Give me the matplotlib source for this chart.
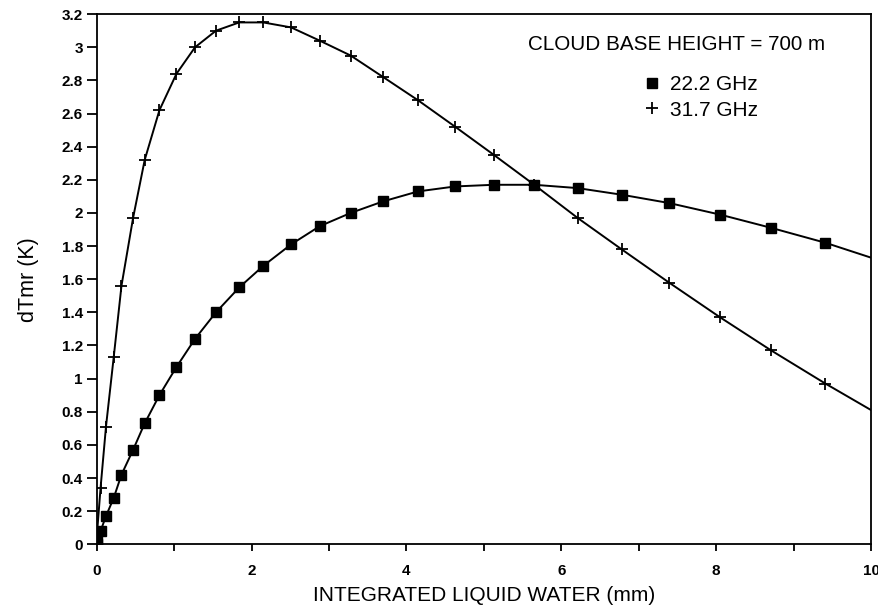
import matplotlib
matplotlib.use("Agg")
import matplotlib.pyplot as plt
from matplotlib.lines import Line2D

plt.rcParams['font.family'] = ['Liberation Sans', 'DejaVu Sans']

# integrated liquid water (mm), same sampling for both channels
lwp = [0.0, 0.01, 0.05, 0.12, 0.22, 0.32, 0.47, 0.62, 0.81, 1.03, 1.27, 1.54,
       1.84, 2.15, 2.51, 2.88, 3.28, 3.70, 4.15, 4.63, 5.13, 5.65, 6.21,
       6.78, 7.39, 8.05, 8.71, 9.41, 10.0]

# dTmr (K)
dt_222 = [0.0, 0.02, 0.08, 0.17, 0.28, 0.42, 0.57, 0.73, 0.90, 1.07, 1.24, 1.40,
          1.55, 1.68, 1.81, 1.92, 2.00, 2.07, 2.13, 2.16, 2.17, 2.17, 2.15,
          2.11, 2.06, 1.99, 1.91, 1.82, 1.73]
dt_317 = [0.0, 0.10, 0.34, 0.71, 1.13, 1.56, 1.97, 2.32, 2.62, 2.84, 3.00, 3.10,
          3.15, 3.15, 3.12, 3.04, 2.95, 2.82, 2.68, 2.52, 2.35, 2.17, 1.97,
          1.78, 1.58, 1.37, 1.17, 0.97, 0.81]

xticks = [0, 2, 4, 6, 8, 10]
xminor = [1, 3, 5, 7, 9]
yticks = [i * 0.2 for i in range(17)]

fig = plt.figure(figsize=(8.79, 6.15), dpi=100)
ax = fig.add_axes([0.110, 0.115, 0.881, 0.862])

# last point (x=10) is only where the curve leaves the frame, no marker
marks = list(range(len(lwp) - 1))
ax.plot(lwp, dt_222, color='black', lw=1.4, marker='s', ms=7.5,
        markevery=marks)
ax.plot(lwp, dt_317, color='black', lw=1.4, marker='+', ms=8.5, mew=1.3,
        markevery=marks)

ax.set_xlim(0, 10)
ax.set_ylim(0, 3.2)
ax.set_xticks(xticks)
ax.set_xticks(xminor, minor=True)
ax.set_yticks(yticks)
ax.set_yticklabels(['%g' % round(v, 1) for v in yticks])
ax.tick_params(axis='both', which='both', direction='out', width=1.3,
               labelsize=11)
ax.tick_params(axis='y', length=7, pad=3)
ax.tick_params(axis='x', which='both', length=5, pad=9)
for lbl in ax.get_xticklabels() + ax.get_yticklabels():
    lbl.set_fontweight('bold')
for sp in ax.spines.values():
    sp.set_linewidth(1.3)

ax.set_xlabel('INTEGRATED LIQUID WATER (mm)', fontsize=15, labelpad=6)
ax.set_ylabel('dTmr (K)', fontsize=15.5)
ax.yaxis.set_label_coords(-0.075, 0.5)

ax.text(0.557, 0.942, 'CLOUD BASE HEIGHT = 700 m', transform=ax.transAxes,
        fontsize=14.9, va='center', ha='left')
handles = [Line2D([], [], color='black', ls='none', marker='s', ms=7),
           Line2D([], [], color='black', ls='none', marker='+', ms=9, mew=1.3)]
ax.legend(handles, ['22.2 GHz', '31.7 GHz'], loc='upper left',
          bbox_to_anchor=(0.687, 0.912), frameon=False, fontsize=15,
          handlelength=0.8, handletextpad=0.5, labelspacing=0.3,
          borderpad=0.2)

fig.savefig('out.png', dpi=100)
